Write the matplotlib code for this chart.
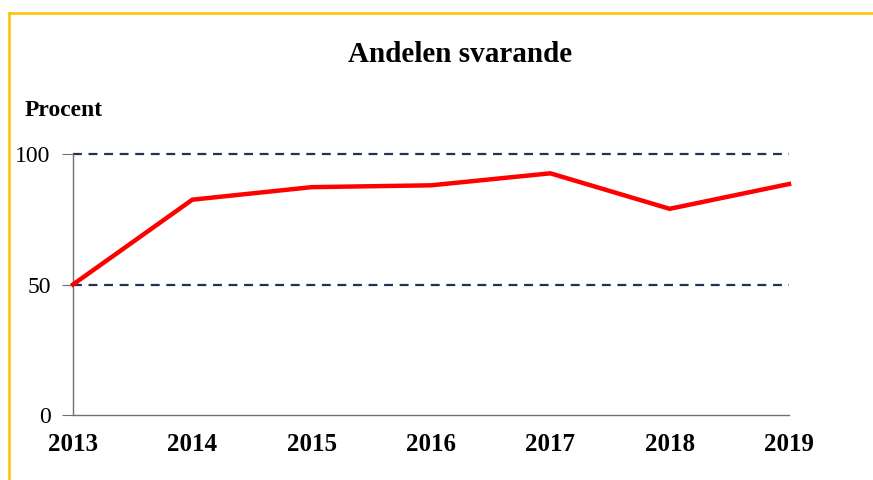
import matplotlib.pyplot as plt
from matplotlib.lines import Line2D

years = [2013, 2014, 2015, 2016, 2017, 2018, 2019]
andel = [50.0, 82.5, 87.3, 88.0, 92.6, 79.0, 88.5]
yticks = [0, 50, 100]

plt.rcParams['font.family'] = ['Liberation Serif', 'DejaVu Serif']

fig = plt.figure(figsize=(8.73, 4.8), dpi=100)
ax = fig.add_axes([73 / 873, 1 - 415 / 480, (789 - 73) / 873, (415 - 154) / 480])

for v in [50, 100]:
    ax.axhline(v, color='#1f3552', linestyle=(0, (4, 3)), linewidth=1.6, zorder=1, clip_on=False)

ax.plot(years, andel, color='#ff0000', linewidth=3.2, zorder=3, solid_joinstyle='miter', clip_on=False)

ax.set_xlim(years[0], years[-1])
ax.set_ylim(0, 100)
ax.set_yticks(yticks)
ax.set_xticks(years)
ax.set_xticklabels([str(y) for y in years], fontsize=18, fontweight='bold')
ax.tick_params(axis='y', labelsize=17, length=8, color='#707070', pad=8, direction='out')
ax.tick_params(axis='x', length=0, pad=13)

for s in ['top', 'right']:
    ax.spines[s].set_visible(False)
for s in ['left', 'bottom']:
    ax.spines[s].set_color('#707070')
    ax.spines[s].set_linewidth(1.0)

fig.text(460 / 873, 1 - 55 / 480, 'Andelen svarande', ha='center', va='center',
         fontsize=21, fontweight='bold')
fig.text(25 / 873, 1 - 111 / 480, 'Procent', ha='left', va='center',
         fontsize=17, fontweight='bold')

# yellow frame, left and top edges
fig.add_artist(Line2D([9 / 873, 9 / 873], [0, 1 - 13 / 480], transform=fig.transFigure,
                      color='#ffc000', linewidth=1.8))
fig.add_artist(Line2D([9 / 873, 1], [1 - 13 / 480, 1 - 13 / 480], transform=fig.transFigure,
                      color='#ffc000', linewidth=1.8))

fig.savefig('out.png', dpi=100)
